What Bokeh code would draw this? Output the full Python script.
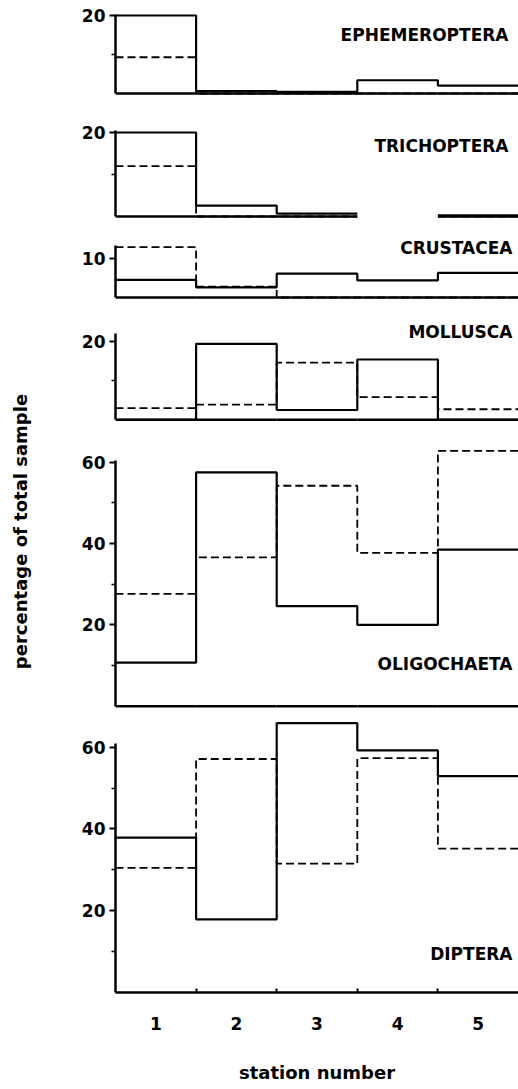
import math
from bokeh.plotting import figure
from bokeh.models import Range1d, FixedTicker, Label
from bokeh.layouts import row, column
from bokeh.embed import file_html
from bokeh.resources import INLINE

NaN = float("nan")

# ---------------- data ----------------
stations = [1, 2, 3, 4, 5]
station_boundaries = [1.5, 2.5, 3.5, 4.5]

ephemeroptera_solid = [20.0, 0.6, 0.4, 3.4, 2.0]
ephemeroptera_dashed = [9.3, 0.0, 0.0, 0.0, 0.0]
trichoptera_solid = [20.0, 2.6, 0.7, NaN, 0.3]
trichoptera_dashed = [12.0, 0.0, 0.0, NaN, 0.0]
crustacea_solid = [4.5, 2.6, 6.1, 4.4, 6.3]
crustacea_dashed = [12.9, 2.8, 0.0, 0.0, 0.0]
mollusca_solid = [0.0, 19.4, 2.5, 15.4, 0.0]
mollusca_dashed = [3.0, 3.9, 14.6, 5.8, 2.7]
oligochaeta_solid = [10.7, 57.5, 24.6, 20.0, 38.5]
oligochaeta_dashed = [27.6, 36.6, 54.2, 37.7, 62.8]
diptera_solid = [37.9, 17.9, 65.9, 59.2, 52.9]
diptera_dashed = [30.5, 57.1, 31.5, 57.3, 35.2]

ticks_small = [20]
minor_small = [10]
ticks_crust = [10]
ticks_large = [20, 40, 60]
minor_large = [10, 30, 50]

# ---------------- layout specs ----------------
FONT = "DejaVu Sans"
X_START, X_END = 0.5, 5.5
LEFT_FIG_W = 38
MB_LEFT = 77
FRAME_W = 403

panels = [
    dict(name="EPHEMEROPTERA", solid=ephemeroptera_solid, dashed=ephemeroptera_dashed,
         yr=(-0.77, 21.03), bt=11, fh=85, bb=0, ticks=ticks_small, minor=minor_small,
         bound=20.2, ly=14.9, lx_off=-10),
    dict(name="TRICHOPTERA", solid=trichoptera_solid, dashed=trichoptera_dashed,
         yr=(-0.71, 21.43), bt=30, fh=93, bb=0, ticks=ticks_small, minor=minor_small,
         bound=20.5, ly=16.8, lx_off=-10),
    dict(name="CRUSTACEA", solid=crustacea_solid, dashed=crustacea_dashed,
         yr=(-0.77, 15.64), bt=17, fh=64, bb=0, ticks=ticks_crust, minor=[],
         bound=13.3, ly=12.8, lx_off=-6),
    dict(name="MOLLUSCA", solid=mollusca_solid, dashed=mollusca_dashed,
         yr=(-0.69, 24.85), bt=22, fh=100, bb=0, ticks=ticks_small, minor=minor_small,
         bound=22.0, ly=22.3, lx_off=-6),
    dict(name="OLIGOCHAETA", solid=oligochaeta_solid, dashed=oligochaeta_dashed,
         yr=(-0.81, 64.1), bt=23, fh=264, bb=0, ticks=ticks_large, minor=minor_large,
         bound=60.4, ly=10.5, lx_off=-6),
    dict(name="DIPTERA", solid=diptera_solid, dashed=diptera_dashed,
         yr=(0.0, 67.5), bt=7, fh=276, bb=96, ticks=ticks_large, minor=minor_large,
         bound=61.0, ly=9.4, lx_off=-6),
]


def step_path(values):
    xs, ys = [], []
    for s, v in zip(stations, values):
        xs += [s - 0.5, s + 0.5]
        ys += [v, v]
    return xs, ys


figs = []
for i, sp in enumerate(panels):
    last = i == len(panels) - 1
    h = sp["bt"] + sp["fh"] + sp["bb"]
    p = figure(width=MB_LEFT + FRAME_W, height=h,
               x_range=Range1d(X_START, X_END), y_range=Range1d(*sp["yr"]),
               x_axis_location="below" if last else None,
               output_backend="svg", toolbar_location=None,
               min_border_left=MB_LEFT, min_border_right=0,
               min_border_top=sp["bt"], min_border_bottom=sp["bb"])
    p.outline_line_color = None
    p.grid.grid_line_color = None
    p.background_fill_color = "white"
    p.border_fill_color = "white"

    # y axis
    ya = p.yaxis[0]
    ya.ticker = FixedTicker(ticks=sp["ticks"], minor_ticks=sp["minor"])
    ya.bounds = (0, sp["bound"])
    ya.axis_line_width = 2.5
    ya.axis_line_color = "black"
    ya.major_tick_in = 0
    ya.major_tick_out = 6
    ya.minor_tick_in = 0
    ya.minor_tick_out = 4
    ya.major_tick_line_width = 2
    ya.minor_tick_line_width = 1.5
    ya.major_label_standoff = 4
    ya.major_label_text_font = FONT
    ya.major_label_text_font_size = "17px"
    ya.major_label_text_font_style = "bold"
    ya.major_label_text_color = "black"

    dx, dy = step_path(sp["dashed"])
    p.line(dx, dy, line_color="black", line_width=1.8, line_dash="8 4")
    sx, sy = step_path(sp["solid"])
    p.line(sx, sy, line_color="black", line_width=2.2)

    if last:
        xa = p.xaxis[0]
        xa.ticker = FixedTicker(ticks=stations, minor_ticks=station_boundaries)
        xa.axis_line_width = 2.5
        xa.axis_line_color = "black"
        xa.major_tick_in = 0
        xa.major_tick_out = 0
        xa.minor_tick_in = 4
        xa.minor_tick_out = 0
        xa.minor_tick_line_width = 2
        xa.major_label_standoff = 24
        xa.major_label_text_font = FONT
        xa.major_label_text_font_size = "17px"
        xa.major_label_text_font_style = "bold"
        xa.major_label_text_color = "black"
        xa.axis_label = "station number"
        xa.axis_label_standoff = 29
        xa.axis_label_text_font = FONT
        xa.axis_label_text_font_size = "18px"
        xa.axis_label_text_font_style = "bold"
        xa.axis_label_text_color = "black"
    else:
        # baseline drawn per station where data exist
        valid = [s for s, v in zip(stations, sp["solid"]) if not math.isnan(v)]
        p.segment(x0=[s - 0.5 for s in valid], x1=[s + 0.5 for s in valid],
                  y0=[0] * len(valid), y1=[0] * len(valid),
                  line_color="black", line_width=2.5)

    p.add_layout(Label(x=X_END, y=sp["ly"], text=sp["name"], text_align="right",
                       text_baseline="middle", x_offset=sp["lx_off"],
                       text_font=FONT, text_font_size="17px",
                       text_font_style="bold", text_color="black"))
    figs.append(p)

total_h = sum(sp["bt"] + sp["fh"] + sp["bb"] for sp in panels)

lab = figure(width=LEFT_FIG_W, height=total_h, x_range=Range1d(0, LEFT_FIG_W),
             y_range=Range1d(0, total_h), output_backend="svg", toolbar_location=None,
             x_axis_location=None, y_axis_location=None,
             min_border_left=0, min_border_right=0, min_border_top=0, min_border_bottom=0)
lab.outline_line_color = None
lab.grid.grid_line_color = None
lab.add_layout(Label(x=20, y=total_h - 531, text="percentage of total sample",
                     angle=math.pi / 2, text_align="center", text_baseline="middle",
                     text_font=FONT, text_font_size="18px", text_font_style="bold",
                     text_color="black"))

layout = row(lab, column(*figs))
open("out.html", "w").write(file_html(layout, INLINE))
